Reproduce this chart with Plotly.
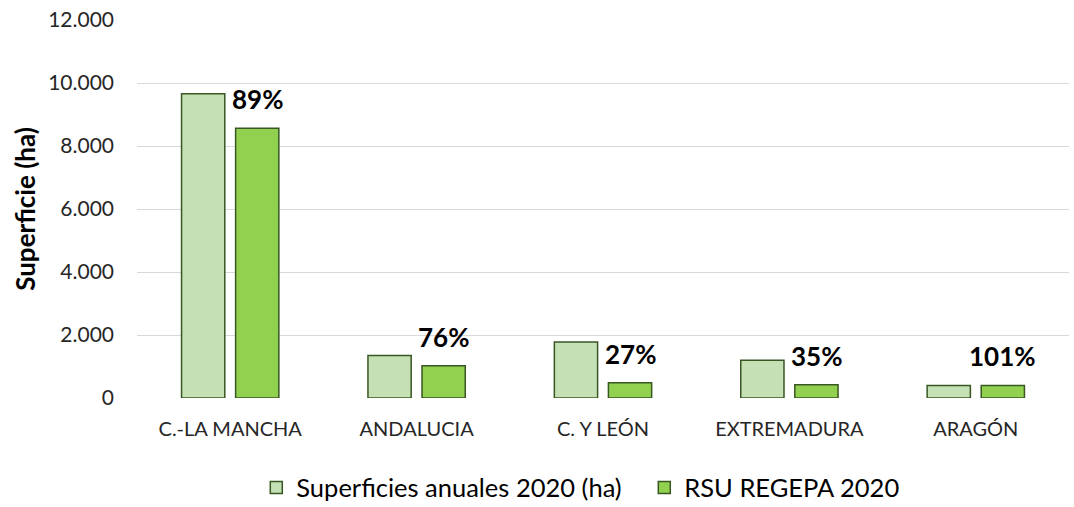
import plotly.graph_objects as go

categories = ["C.-LA MANCHA", "ANDALUCIA", "C. Y LEÓN", "EXTREMADURA", "ARAGÓN"]
superficies_2020 = [9660, 1350, 1780, 1200, 395]
rsu_regepa_2020 = [8560, 1020, 485, 420, 400]
series_names = ["Superficies anuales 2020 (ha)", "RSU REGEPA 2020"]
y_ticks = [0, 2000, 4000, 6000, 8000, 10000, 12000]

pct_labels = [f"{round(g / s * 100)}%" for g, s in zip(rsu_regepa_2020, superficies_2020)]

FONT = "Lato"
TXT = "#262626"
EDGE = "#385723"

fig = go.Figure()
fig.add_trace(go.Bar(
    x=categories, y=superficies_2020, name=series_names[0],
    marker=dict(color="#c5e0b4", line=dict(color=EDGE, width=1.5)),
))
fig.add_trace(go.Bar(
    x=categories, y=rsu_regepa_2020, name=series_names[1],
    marker=dict(color="#92d050", line=dict(color=EDGE, width=1.5)),
))

for cat, val, lab in zip(categories, rsu_regepa_2020, pct_labels):
    fig.add_annotation(
        x=cat, y=val, text=f"<b>{lab}</b>", showarrow=False,
        xref="x", yref="y", xanchor="center", yanchor="middle",
        xshift=27, yshift=29,
        font=dict(family=FONT, size=26, color="#000000"),
    )

fig.update_layout(
    width=1074, height=507,
    margin=dict(l=137, r=5, t=20, b=109, autoexpand=False),
    paper_bgcolor="white", plot_bgcolor="white",
    separators=",.",
    barmode="group", bargap=0.42, bargroupgap=0.2,
    font=dict(family=FONT, color=TXT),
    showlegend=True,
    legend=dict(
        orientation="h", x=0.128, xanchor="left", y=-0.238, yanchor="middle",
        font=dict(family=FONT, size=25.5, color="#000000"),
        bgcolor="rgba(0,0,0,0)",
        entrywidth=343, entrywidthmode="pixels",
    ),
)
fig.update_yaxes(
    range=[0, 12000], tickvals=y_ticks, tickformat=",.0f",
    showgrid=True, gridcolor="#d9d9d9", gridwidth=1,
    zeroline=False, showline=False, ticks="",
    ticklabelstandoff=22, ticklabeloverflow="allow",
    tickfont=dict(family=FONT, size=21, color=TXT),
    title=dict(text="<b>Superficie (ha)</b>", standoff=5,
               font=dict(family=FONT, size=26, color="#000000")),
    automargin=False,
)
fig.update_xaxes(
    showgrid=False, zeroline=False, showline=False, ticks="",
    ticklabelstandoff=17,
    tickfont=dict(family=FONT, size=20, color=TXT),
    automargin=False,
)

# remove the page's default 8px body margin so the figure fills the window
fig.write_html(
    "out.html",
    config={"displayModeBar": False},
    post_script="document.body.style.margin='0';",
)
